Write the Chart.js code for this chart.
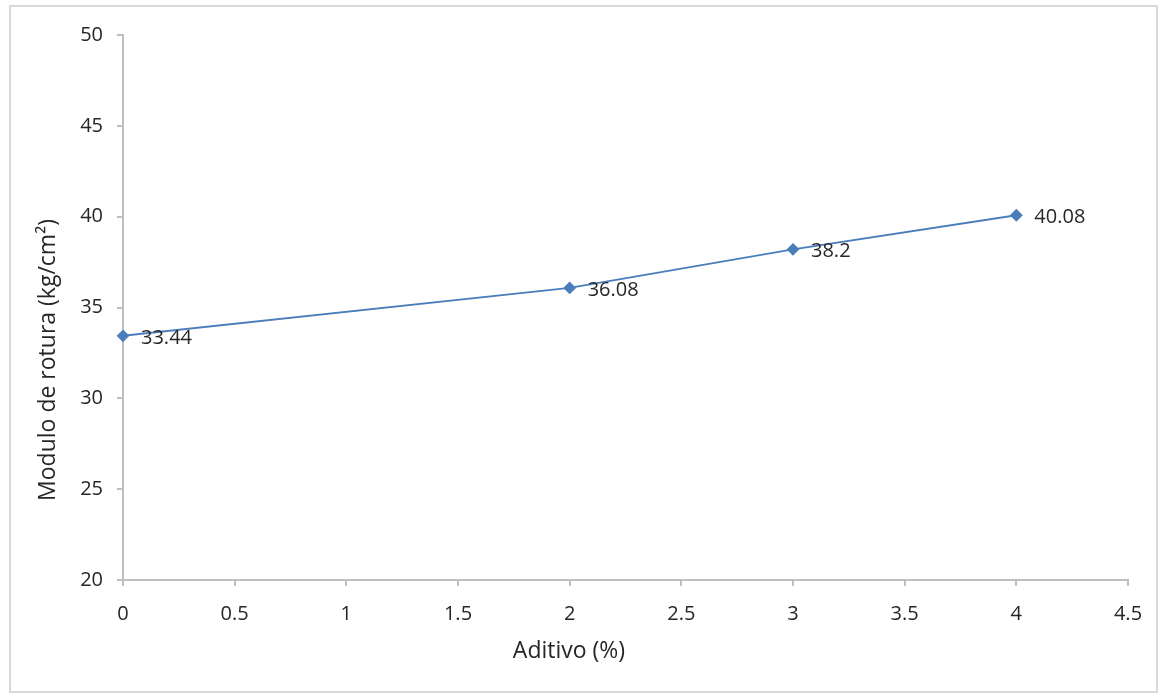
<!DOCTYPE html>
<html>
<head>
<meta charset="utf-8">
<script src="https://cdn.jsdelivr.net/npm/chart.js@4/dist/chart.umd.min.js"></script>
<style>
  html, body { margin: 0; padding: 0; background: #fff; }
  #wrap { width: 1164px; height: 695px; position: relative; }
</style>
</head>
<body>
<div id="wrap"><canvas id="c" width="1164" height="695"></canvas></div>
<script>
const aditivo = [0, 2, 3, 4];
const modulo = [33.44, 36.08, 38.2, 40.08];
const xTicks = [0, 0.5, 1, 1.5, 2, 2.5, 3, 3.5, 4, 4.5];
const yTicks = [20, 25, 30, 35, 40, 45, 50];
const xTitle = 'Aditivo (%)';
const yTitle = 'Modulo de rotura (kg/cm²)';

const FONT = '"Open Sans", "DejaVu Sans", sans-serif';
const TXT = '#262626';
const AXIS = '#bfbfbf';

const frame = {
  id: 'frame',
  beforeDraw(chart) {
    const ctx = chart.ctx;
    ctx.save();
    ctx.fillStyle = '#fff';
    ctx.fillRect(0, 0, chart.width, chart.height);
    ctx.strokeStyle = '#d9d9d9';
    ctx.lineWidth = 2;
    ctx.strokeRect(10, 6, 1147, 686);
    ctx.restore();
  }
};

const titles = {
  id: 'axisTitles',
  afterDraw(chart) {
    const ctx = chart.ctx;
    ctx.save();
    ctx.font = '23px ' + FONT;
    ctx.fillStyle = TXT;
    ctx.textAlign = 'center';
    ctx.textBaseline = 'alphabetic';
    ctx.fillText(xTitle, 569, 658);
    ctx.translate(55, 360);
    ctx.rotate(-Math.PI / 2);
    ctx.fillText(yTitle, 0, 0);
    ctx.restore();
  }
};

const labels = {
  id: 'pointLabels',
  afterDatasetsDraw(chart) {
    const ctx = chart.ctx;
    const meta = chart.getDatasetMeta(0);
    ctx.save();
    ctx.font = '20px ' + FONT;
    ctx.fillStyle = TXT;
    ctx.textAlign = 'left';
    ctx.textBaseline = 'middle';
    meta.data.forEach((pt, i) => {
      ctx.fillText(String(modulo[i]), pt.x + 18, pt.y + 2);
    });
    ctx.restore();
  }
};

new Chart(document.getElementById('c'), {
  type: 'scatter',
  data: {
    datasets: [{
      data: aditivo.map((x, i) => ({x: x, y: modulo[i]})),
      showLine: true,
      borderColor: '#4a7ebb',
      backgroundColor: '#4a7ebb',
      borderWidth: 2,
      pointStyle: 'rectRot',
      pointRadius: 5,
      pointHoverRadius: 5,
      clip: false
    }]
  },
  options: {
    responsive: false,
    animation: false,
    events: [],
    layout: { padding: { left: 25, top: 35, right: 36, bottom: 20 } },
    plugins: { legend: { display: false }, tooltip: { enabled: false } },
    scales: {
      x: {
        type: 'linear',
        min: 0, max: 4.5,
        afterBuildTicks(scale) { scale.ticks = xTicks.map(v => ({value: v})); },
        afterFit(scale) { scale.height = 695 - 580 - 20; },
        grid: { drawOnChartArea: false, drawTicks: true, tickLength: 6, tickColor: AXIS, lineWidth: 2 },
        border: { color: AXIS, width: 2 },
        ticks: { color: TXT, font: { family: FONT, size: 20 }, padding: 16, maxRotation: 0, autoSkip: false,
                 callback: v => String(v) }
      },
      y: {
        type: 'linear',
        min: 20, max: 50,
        afterBuildTicks(scale) { scale.ticks = yTicks.map(v => ({value: v})); },
        afterFit(scale) { scale.width = 123 - 25; },
        grid: { drawOnChartArea: false, drawTicks: true, tickLength: 6, tickColor: AXIS, lineWidth: 2 },
        border: { color: AXIS, width: 2 },
        ticks: { color: TXT, font: { family: FONT, size: 20 }, padding: 14, autoSkip: false,
                 callback: v => String(v) }
      }
    }
  },
  plugins: [frame, labels, titles]
});
</script>
</body>
</html>
